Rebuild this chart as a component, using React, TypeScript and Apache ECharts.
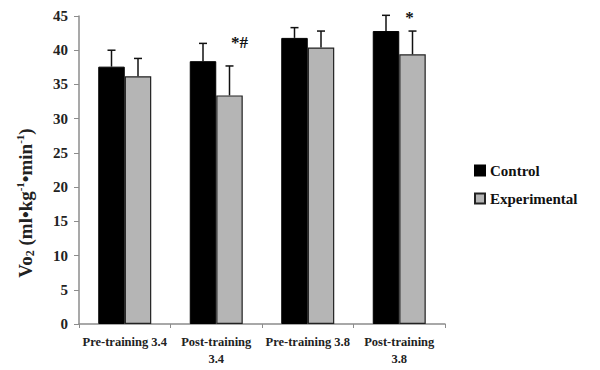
import React, { useEffect, useRef } from "react";
import * as echarts from "echarts";

const categories = ["Pre-training 3.4", "Post-training\n3.4", "Pre-training 3.8", "Post-training\n3.8"];
const controlMeans = [37.6, 38.4, 41.8, 42.8];
const controlErr = [2.4, 2.6, 1.5, 2.3];
const expMeans = [36.2, 33.4, 40.4, 39.4];
const expErr = [2.6, 4.3, 2.4, 3.4];
const expAnnotations = ["", "*#", "", "*"];
const yTicks = { min: 0, max: 45, interval: 5 };

const FONT = "'Liberation Serif', 'Times New Roman', serif";
const BAR_W = 26.5;

function errorSeries(name: string, means: number[], errs: number[], side: number, notes?: string[]) {
  return {
    type: "custom",
    name: name + " error",
    silent: true,
    z: 5,
    data: means.map((m, i) => [i, m, m + errs[i]]),
    renderItem: (params: any, api: any) => {
      const idx = api.value(0);
      const base = api.coord([idx, api.value(1)]);
      const top = api.coord([idx, api.value(2)]);
      const x = base[0] + side * (BAR_W / 2);
      const children: any[] = [
        { type: "line", shape: { x1: x, y1: base[1], x2: x, y2: top[1] }, style: { stroke: "#111", lineWidth: 1.5 } },
        { type: "line", shape: { x1: x - 4, y1: top[1], x2: x + 4, y2: top[1] }, style: { stroke: "#111", lineWidth: 1.5 } },
      ];
      const note = notes ? notes[idx] : "";
      if (note) {
        const two = note.length > 1;
        children.push({
          type: "text",
          style: {
            text: note,
            x: two ? x + 10 : x - 3,
            y: two ? top[1] - 23 : top[1] - 14,
            font: "bold 17px " + FONT,
            fill: "#111",
            align: "center",
            verticalAlign: "middle",
          },
        });
      }
      return { type: "group", children };
    },
  };
}

export default function App() {
  const ref = useRef<HTMLDivElement>(null);
  useEffect(() => {
    if (!ref.current) return;
    const chart = echarts.init(ref.current, null, { renderer: "svg" });
    chart.setOption({
      animation: false,
      backgroundColor: "#fff",
      grid: { left: 79, right: 155, top: 16, bottom: 46 },
      legend: {
        orient: "vertical",
        left: 469,
        top: 158,
        itemWidth: 10,
        itemHeight: 10,
        itemGap: 13,
        icon: "rect",
        data: ["Control", "Experimental"],
        textStyle: { fontFamily: FONT, fontWeight: "bold", fontSize: 15, color: "#111" },
      },
      xAxis: {
        type: "category",
        data: categories,
        axisLine: { lineStyle: { color: "#8c8c8c", width: 1.5 } },
        axisTick: { show: true, length: 4, lineStyle: { color: "#8c8c8c" } },
        axisLabel: {
          fontFamily: FONT,
          fontWeight: "bold",
          fontSize: 12.5,
          color: "#222",
          margin: 9,
          lineHeight: 17,
          interval: 0,
        },
      },
      yAxis: {
        type: "value",
        min: yTicks.min,
        max: yTicks.max,
        interval: yTicks.interval,
        splitLine: { show: false },
        axisLine: { show: true, lineStyle: { color: "#8c8c8c", width: 1.5 } },
        axisTick: { show: true, length: 5, lineStyle: { color: "#8c8c8c" } },
        axisLabel: { fontFamily: FONT, fontWeight: "bold", fontSize: 15, color: "#222", margin: 11 },
      },
      graphic: [
        {
          type: "text",
          x: 25,
          y: 203,
          rotation: Math.PI / 2,
          style: {
            text: "{b|Vo}{sub|2}{b| (ml•kg}{sup|-1}{b|•min}{sup|-1}{b|)}",
            align: "center",
            verticalAlign: "middle",
            fill: "#222",
            rich: {
              b: { fontFamily: FONT, fontWeight: "bold", fontSize: 19, lineHeight: 22, fill: "#222" },
              sub: { fontFamily: FONT, fontWeight: "bold", fontSize: 12, lineHeight: 12, verticalAlign: "bottom", fill: "#222" },
              sup: { fontFamily: FONT, fontWeight: "bold", fontSize: 11, lineHeight: 11, verticalAlign: "top", fill: "#222" },
            },
          },
        },
      ],
      series: [
        {
          name: "Control",
          type: "bar",
          data: controlMeans,
          barWidth: BAR_W,
          barGap: "0%",
          itemStyle: { color: "#000", borderColor: "#000", borderWidth: 1 },
        },
        {
          name: "Experimental",
          type: "bar",
          data: expMeans,
          barWidth: BAR_W,
          barGap: "0%",
          itemStyle: { color: "#b5b5b5", borderColor: "#222", borderWidth: 1.2 },
        },
        errorSeries("Control", controlMeans, controlErr, -1),
        errorSeries("Experimental", expMeans, expErr, 1, expAnnotations),
      ],
    });
    return () => chart.dispose();
  }, []);
  return <div ref={ref} style={{ position: "fixed", left: 0, top: 0, width: 600, height: 370 }} />;
}
